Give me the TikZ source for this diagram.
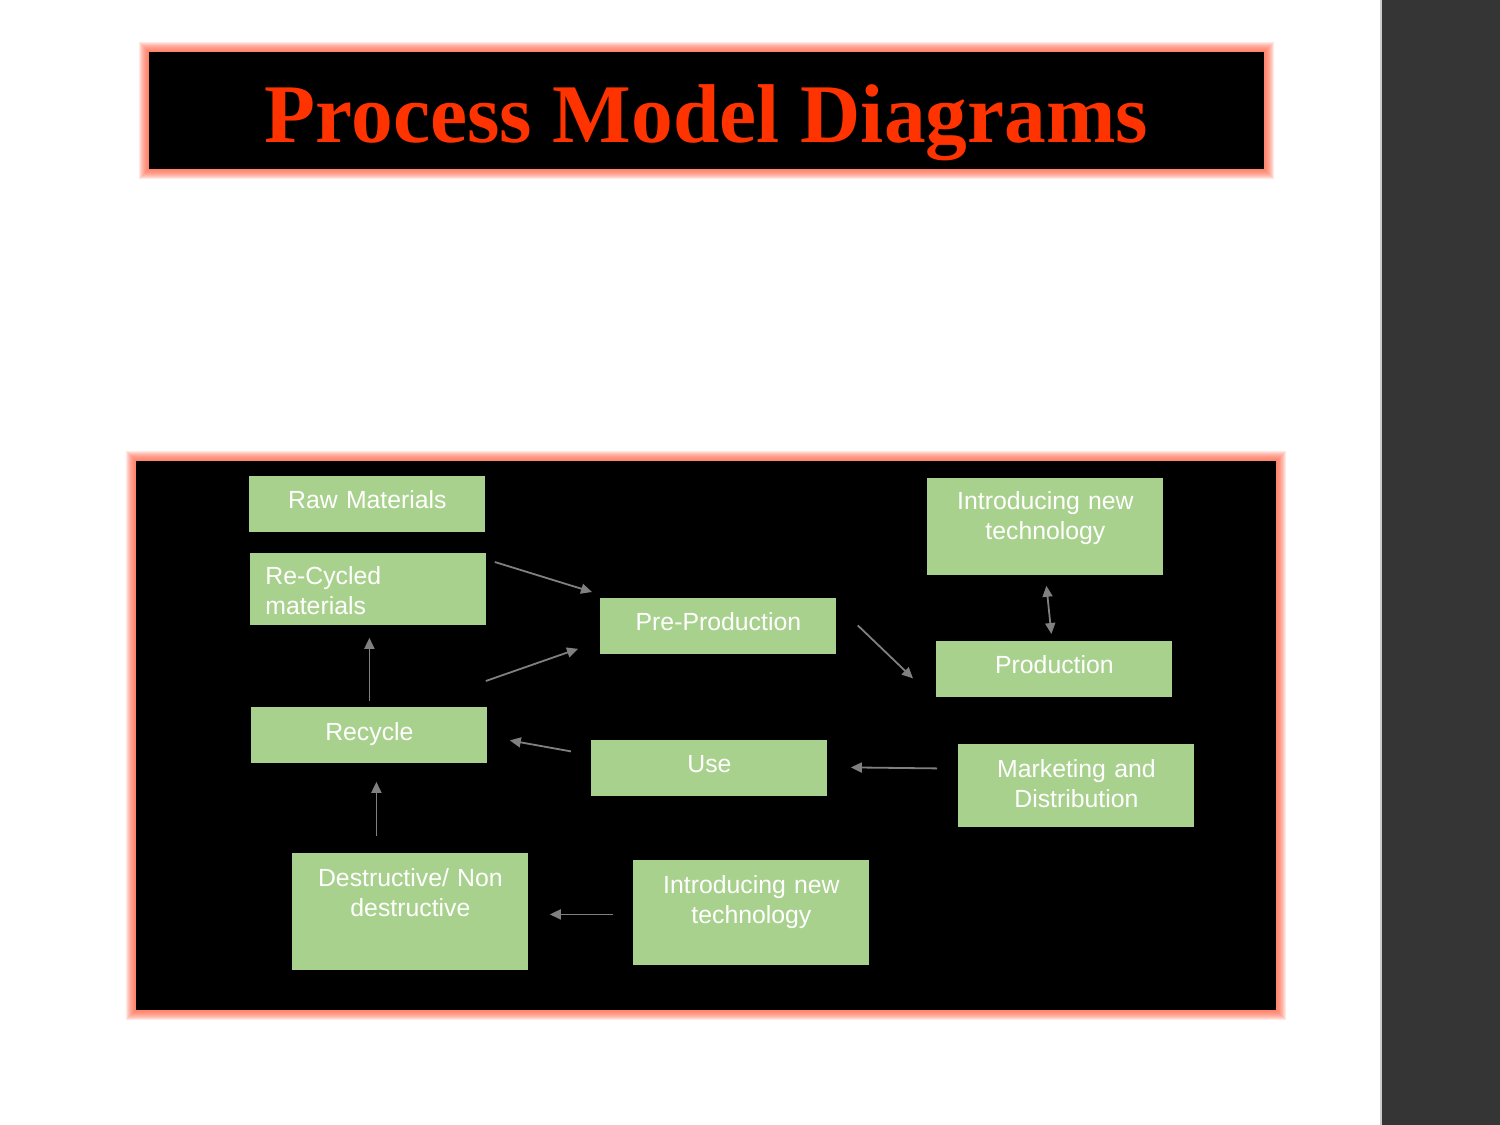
\documentclass[tikz,border=0pt]{standalone}
\usepackage{fontspec}
\setmainfont{Liberation Sans}
\newfontfamily\titlefont{Liberation Serif}
\usetikzlibrary{arrows.meta, backgrounds}
\definecolor{boxgreen}{RGB}{169,209,142}
\definecolor{titlered}{RGB}{255,51,0}
\definecolor{glowred}{RGB}{255,105,75}
\definecolor{arrgray}{RGB}{128,128,128}
\definecolor{sidegray}{RGB}{53,53,53}

\begin{document}
\begin{tikzpicture}[
    x=0.5pt, y=-0.5pt,
    >={Triangle[length=5.5pt,width=5pt]},
    gbox/.style={fill=boxgreen, anchor=north west, text=white, inner ysep=0pt, inner xsep=4pt, minimum width=118pt, text width=110pt, align=center, font=\fontsize{12.4}{15}\selectfont},
    arr/.style={draw=arrgray, line width=0.9pt, ->},
    panel/.style={fill=black, inner sep=0pt}
]

\useasboundingbox (0,0) rectangle (1500,1125);
\fill[sidegray] (1381,0) rectangle (1500,1125);
\draw[black!20, line width=0.6pt] (1381,0) -- (1381,1125);

\node[panel, minimum width=557.5pt, text height=45pt, text depth=13.5pt, text=titlered, font=\titlefont\bfseries\fontsize{41.7}{48}\selectfont] (title) at (706.5,110.5) {Process Model Diagrams};
\node[panel, minimum width=570pt, minimum height=274.5pt] (board) at (706,735.5) {};

\begin{scope}[on background layer]
\fill[white] (0,0) rectangle (1381,1125);
\foreach \i in {1,...,10} {
  \fill[glowred, opacity=0.15] ([shift={(-\i,-\i)}]title.north west) rectangle ([shift={(\i,\i)}]title.south east);
  \fill[glowred, opacity=0.15] ([shift={(-\i,-\i)}]board.north west) rectangle ([shift={(\i,\i)}]board.south east);
}
\end{scope}

\node[gbox, text height=16pt, text depth=12pt] (raw) at (249,476) {Raw Materials};
\node[gbox, align=left, inner xsep=7.5pt, text width=103pt, text height=15.5pt, text depth=20.5pt] (recycled) at (250,553) {Re-Cycled\\materials};
\node[gbox, text height=16pt, text depth=12pt] (pre) at (600,598) {Pre-Production};
\node[gbox, text height=15.5pt, text depth=33pt] (newtech) at (927,478) {Introducing new\\technology};
\node[gbox, text height=16pt, text depth=12pt] (prod) at (936,641) {Production};
\node[gbox, text height=16.5pt, text depth=11.5pt] (recycle) at (251,707) {Recycle};
\node[gbox, text height=16pt, text depth=12pt] (use) at (591,740) {Use};
\node[gbox, text height=16.5pt, text depth=25pt] (market) at (958,744) {Marketing and\\Distribution};
\node[gbox, text height=16.5pt, text depth=42pt] (destr) at (292,853) {Destructive/ Non\\destructive};
\node[gbox, text height=16.5pt, text depth=36pt] (newtech2) at (633,860) {Introducing new\\technology};

\draw[arr] ([shift={(8,9)}]recycled.north east) -- ([shift={(-8,-6)}]pre.north west);
\draw[arr] ([shift={(-2,-26)}]recycle.north east) -- ([shift={(-22,-6)}]pre.south west);
\draw[arr] ([shift={(0,-6)}]recycle.north) -- ([shift={(1,12)}]recycled.south);
\draw[arr] ([shift={(21,-1)}]pre.east) -- ([shift={(-23,9)}]prod.west);
\draw[arr, <->] ([shift={(1,10)}]newtech.south) -- ([shift={(-3,-7)}]prod.north);
\draw[arr] ([shift={(-21,-17.5)}]market.west) -- ([shift={(23,-1)}]use.east);
\draw[arr] ([shift={(-20,-17)}]use.west) -- ([shift={(22,5)}]recycle.east);
\draw[arr] ([shift={(-34,-17)}]destr.north) -- ([shift={(7,18)}]recycle.south);
\draw[arr] ([shift={(-20,1.5)}]newtech2.west) -- ([shift={(21,2.5)}]destr.east);

\end{tikzpicture}
\end{document}
